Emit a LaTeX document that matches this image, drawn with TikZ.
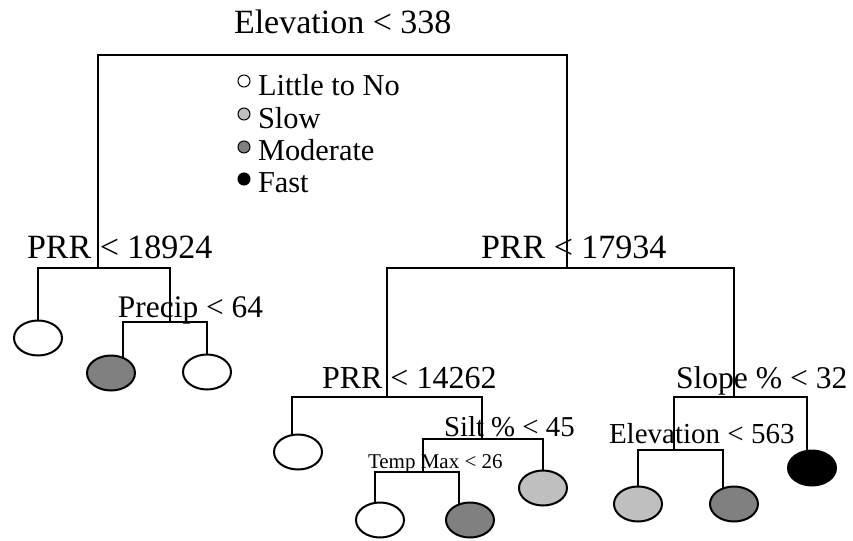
\documentclass[tikz,border=0pt]{standalone}
\usepackage{fontspec}
\setmainfont{Liberation Serif}
\usetikzlibrary{shapes.geometric}

\begin{document}
\begin{tikzpicture}[x=0.5pt,y=-0.5pt,line width=1pt,
  split/.style={anchor=base west,inner sep=0pt,font=\fontsize{17}{20}\selectfont},
  leaf/.style={draw,ellipse,minimum width=24pt,minimum height=17.5pt,inner sep=0pt},
  key/.style={draw,circle,line width=0.5pt,minimum size=6pt,inner sep=0pt},
  keytext/.style={anchor=base west,inner sep=0pt,font=\fontsize{15.2}{18}\selectfont}]

% ---------- frame (pixel grid of the source, 853 x 541) ----------
\useasboundingbox (0,0) rectangle (853,541);

% ---------- split labels ----------
\node[split] (t0) at (233,33) {Elevation < 338};
\node[split] (t1) at (26,258) {PRR < 18924};
\node[split] (t2) at (480,258) {PRR < 17934};
\node[split,font=\fontsize{15.7}{18}\selectfont] (t3) at (117,317) {Precip < 64};
\node[split,font=\fontsize{16}{18}\selectfont] (t4) at (321,388) {PRR < 14262};
\node[split,font=\fontsize{14.4}{17}\selectfont] (t5) at (443,436) {Silt \% < 45};
\node[split,font=\fontsize{10.5}{12}\selectfont] (t6) at (367,468) {Temp Max < 26};
\node[split,font=\fontsize{15.8}{18}\selectfont] (t7) at (675,388) {Slope \% < 32};
\node[split,font=\fontsize{14.5}{17}\selectfont] (t8) at (608,443) {Elevation < 563};

% ---------- legend ----------
\node[key,fill=white] (k1) at (244,81) {};
\node[key,fill=gray!50] (k2) at (244,114) {};
\node[key,fill=gray] (k3) at (244,147) {};
\node[key,fill=black] (k4) at (244,179) {};
\node[keytext] (k1t) at (257,95) {Little to No};
\node[keytext] (k2t) at (257,128) {Slow};
\node[keytext] (k3t) at (257,160) {Moderate};
\node[keytext] (k4t) at (257,192) {Fast};

% ---------- leaves ----------
\node[leaf,fill=white] (w1) at (38,338) {};
\node[leaf,fill=gray] (m1) at (111,373) {};
\node[leaf,fill=white] (w2) at (207,372) {};
\node[leaf,fill=white] (w3) at (298,452) {};
\node[leaf,fill=gray!50] (g1) at (543,488) {};
\node[leaf,fill=white] (w4) at (380,520) {};
\node[leaf,fill=gray] (m2) at (470,520) {};
\node[leaf,fill=gray!50] (g2) at (638,504) {};
\node[leaf,fill=gray] (m3) at (734,504) {};
\node[leaf,fill=black] (b1) at (812,468) {};

% ---------- junctions ----------
\coordinate (j0) at (344,55);
\coordinate (j1) at (98,268);
\coordinate (j2) at (170,322);
\coordinate (j3) at (567,268);
\coordinate (j4) at (387,397);
\coordinate (j5) at (734,397);
\coordinate (j6) at (482,439);
\coordinate (j7) at (423,472);
\coordinate (j8) at (674,450);

% ---------- branches ----------
\draw (j1) |- (j0) -| (j3);
\draw (w1.north) |- (j1) -| (j2);
\draw (m1.55) |- (j2) -| (w2.north);
\draw (j4) |- (j3) -| (j5);
\draw (w3.110) |- (j4) -| (j6);
\draw (j7) |- (j6) -| (g1.north);
\draw (w4.105) |- (j7) -| (m2.125);
\draw (j8) |- (j5) -| (b1.105);
\draw (g2.north) |- (j8) -| (m3.125);

\end{tikzpicture}
\end{document}
